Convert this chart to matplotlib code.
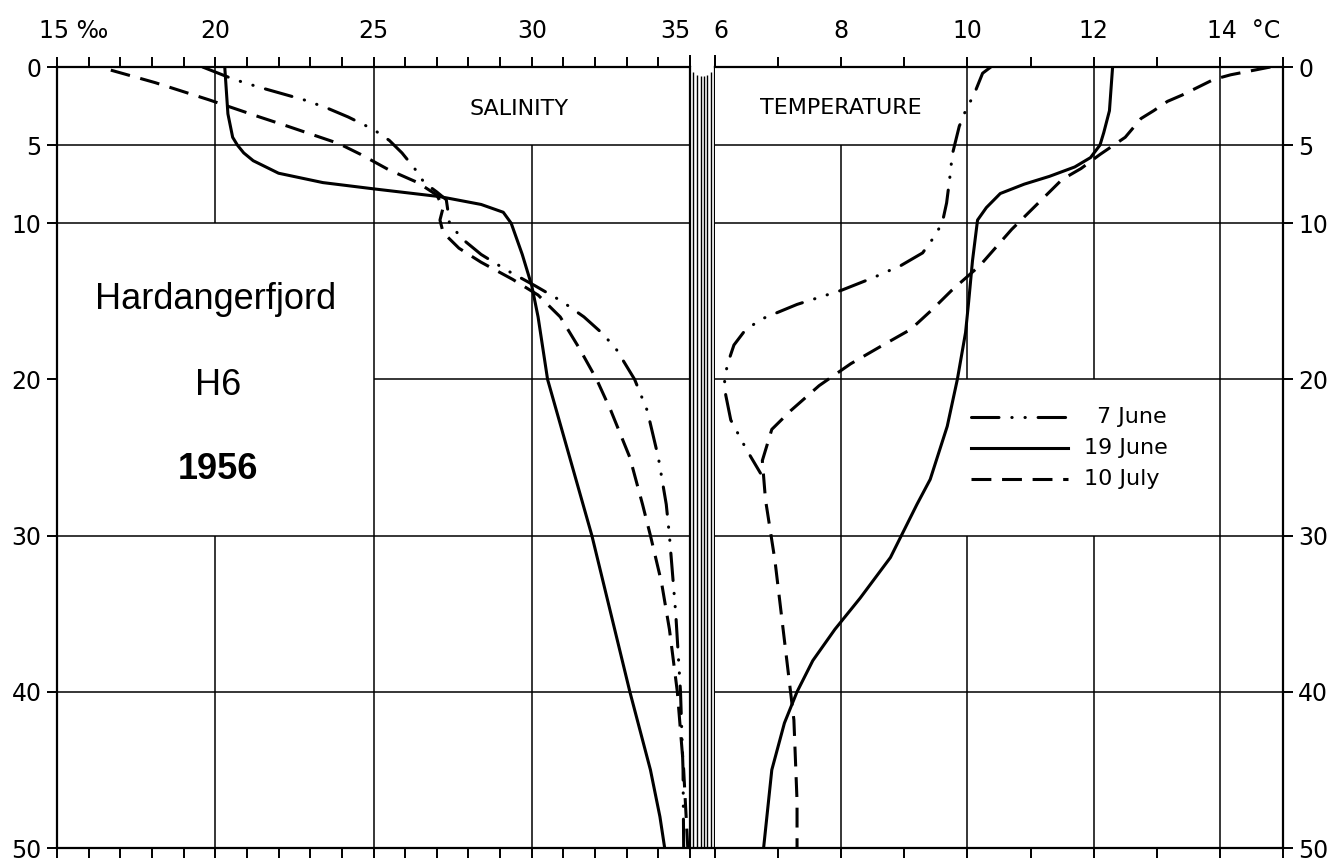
import numpy as np
import matplotlib.pyplot as plt

# depth (m) and salinity (permille)
sal_jun07_d = [0, 0.8, 1.3, 2.1, 2.6, 3.2, 4, 4.7, 5.5, 6.5, 7.4, 8, 8.5, 9.2, 10, 11, 12, 13, 14, 15, 16, 17, 18, 20, 22, 25, 28, 30, 35, 40, 45, 50]
sal_jun07 = [19.6, 20.6, 21.4, 22.8, 23.5, 24.2, 25.0, 25.5, 25.9, 26.3, 26.6, 27.0, 27.3, 27.35, 27.4, 27.8, 28.4, 29.2, 30.1, 30.95, 31.65, 32.2, 32.65, 33.25, 33.65, 34.0, 34.25, 34.35, 34.55, 34.7, 34.78, 34.8]
sal_jun19_d = [0, 3, 4.5, 5, 5.5, 6, 6.8, 7.4, 7.8, 8.3, 8.8, 9.3, 10, 12, 14, 16, 20, 25, 30, 35, 40, 45, 48, 50]
sal_jun19 = [20.3, 20.4, 20.55, 20.7, 20.9, 21.2, 22.0, 23.4, 25.0, 27.1, 28.4, 29.1, 29.35, 29.7, 30.0, 30.2, 30.5, 31.2, 31.9, 32.5, 33.1, 33.75, 34.05, 34.2]
sal_jul10_d = [0.2, 1, 2.1, 3.2, 3.8, 4.9, 5.6, 6.6, 7.4, 8.2, 9, 9.8, 10.6, 11.6, 12.5, 13.6, 14.6, 16, 18, 20, 22, 25, 28, 30, 33, 36, 40, 45, 50]
sal_jul10 = [16.7, 18.1, 19.8, 21.4, 22.3, 23.9, 24.6, 25.5, 26.4, 27.0, 27.2, 27.1, 27.2, 27.7, 28.4, 29.4, 30.2, 30.9, 31.5, 32.05, 32.5, 33.1, 33.5, 33.75, 34.1, 34.35, 34.6, 34.8, 34.93]

# depth (m) and temperature (deg C)
tmp_jun07_d = [0, 0.4, 1.8, 2.7, 3.8, 5.6, 7.1, 8.7, 10, 11, 11.9, 12.7, 13.5, 14.3, 15.2, 16.2, 17, 17.8, 19, 20, 21, 22.6, 24.5, 26]
tmp_jun07 = [10.37, 10.24, 10.1, 9.98, 9.87, 9.76, 9.72, 9.67, 9.6, 9.45, 9.29, 8.95, 8.5, 8.0, 7.3, 6.7, 6.45, 6.3, 6.2, 6.15, 6.17, 6.25, 6.5, 6.72]
tmp_jun19_d = [0, 2.8, 4.2, 5, 5.8, 6.4, 7, 7.5, 8.1, 9, 9.8, 12.4, 15, 17, 20, 23, 26.4, 28, 31.4, 34, 36, 38, 40, 42, 45, 50]
tmp_jun19 = [12.3, 12.25, 12.16, 12.1, 11.95, 11.7, 11.3, 10.9, 10.52, 10.3, 10.16, 10.08, 10.02, 9.97, 9.84, 9.68, 9.41, 9.2, 8.78, 8.3, 7.9, 7.55, 7.3, 7.1, 6.9, 6.77]
tmp_jul10_d = [0, 0.5, 0.8, 1.2, 1.8, 2.2, 2.8, 3.3, 4.5, 5.6, 6.5, 7.2, 8.8, 10.4, 12.7, 14.3, 15.5, 16.8, 17.9, 19, 20.4, 22, 23.2, 25.2, 27.7, 31.6, 36.7, 41.8, 47, 50]
tmp_jul10 = [14.8, 14.17, 13.9, 13.7, 13.4, 13.17, 12.95, 12.75, 12.5, 12.1, 11.8, 11.5, 11.1, 10.7, 10.2, 9.75, 9.45, 9.1, 8.62, 8.15, 7.65, 7.2, 6.9, 6.75, 6.8, 6.95, 7.1, 7.25, 7.3, 7.3]

depth_ticks = [0, 5, 10, 20, 30, 40, 50]
sal_labels = [15, 20, 25, 30, 35]
tmp_labels = [6, 8, 10, 12, 14]
legend_names = ['7 June', '19 June', '10 July']

W, H = 1343, 860
plt.rcParams['font.family'] = ['DejaVu Sans']
fig = plt.figure(figsize=(W / 100, H / 100), dpi=100)
axS = fig.add_axes([57 / W, 12 / H, 633 / W, 781 / H])
axM = fig.add_axes([690 / W, 12 / H, 25 / W, 781 / H])
axT = fig.add_axes([715 / W, 12 / H, 568 / W, 781 / H])

lw = 2.2
st_dd = dict(color='k', lw=lw, ls=(0, (9, 4.2, 0.1, 4.2, 0.1, 4.2)), dash_capstyle='round')
st_solid = dict(color='k', lw=lw, ls='-')
st_dash = dict(color='k', lw=lw, ls=(0, (6.5, 3.5)))
gl = dict(color='k', lw=1.1)

for ax in (axS, axT, axM):
    ax.set_ylim(50, 0)
    for s in ax.spines.values():
        s.set_linewidth(1.6)

# salinity panel
axS.set_xlim(15, 35)
axS.set_xticks(np.arange(15, 36, 1))
axS.tick_params(axis='x', which='both', top=True, bottom=True, direction='out',
                length=7, width=1.4, labelbottom=False, labeltop=False)
axS.set_yticks(depth_ticks)
axS.tick_params(axis='y', left=True, right=False, direction='out', length=7, width=1.4,
                labelsize=17, pad=4)
axS.spines['right'].set_visible(False)
axS.vlines(20, 0, 10, **gl)
axS.vlines(20, 30, 50, **gl)
axS.vlines(25, 0, 50, **gl)
axS.vlines(30, 5, 50, **gl)
axS.hlines([5, 10, 30, 40], 15, 35, **gl)
axS.hlines(20, 25, 35, **gl)
axS.plot(sal_jun07, sal_jun07_d, **st_dd)
axS.plot(sal_jun19, sal_jun19_d, **st_solid)
axS.plot(sal_jul10, sal_jul10_d, **st_dash)
axS.text(29.6, 2.7, 'SALINITY', fontsize=16, ha='center', va='center')
axS.text(20.0, 14.9, 'Hardangerfjord', family='Liberation Sans', fontsize=26, ha='center', va='center')
axS.text(20.1, 20.4, 'H6', family='Liberation Sans', fontsize=26, ha='center', va='center')
axS.text(20.1, 25.8, '1956', family='Liberation Sans', fontsize=26, weight='bold', ha='center', va='center')

# temperature panel
axT.set_xlim(6, 15)
axT.set_xticks(np.arange(6, 16, 1))
axT.tick_params(axis='x', which='both', top=True, bottom=True, direction='out',
                length=7, width=1.4, labelbottom=False, labeltop=False)
axT.set_yticks(depth_ticks)
axT.tick_params(axis='y', left=False, right=True, labelleft=False, labelright=True,
                direction='out', length=7, width=1.4, labelsize=17, pad=4)
axT.spines['left'].set_visible(False)
axT.vlines(8, 5, 50, **gl)
axT.vlines([10, 12], 0, 20, **gl)
axT.vlines([10, 12], 30, 50, **gl)
axT.vlines(14, 0, 50, **gl)
axT.hlines([5, 10, 20, 30, 40], 6, 15, **gl)
axT.plot(tmp_jun07, tmp_jun07_d, **st_dd)
axT.plot(tmp_jun19, tmp_jun19_d, **st_solid)
axT.plot(tmp_jul10, tmp_jul10_d, **st_dash)
axT.text(8.0, 2.6, 'TEMPERATURE', fontsize=16, ha='center', va='center')

# legend drawn inside the box 10-14 / 20-30 m
leg_y = [22.4, 24.4, 26.4]
for yy, name, st in zip(leg_y, legend_names, (st_dd, st_solid, st_dash)):
    axT.plot([10.05, 11.6], [yy, yy], **st)
    axT.text(11.84 if name != '7 June' else 12.06, yy, name, fontsize=16, ha='left', va='center')

# break strip between the panels
axM.set_xlim(0, 1)
axM.set_xticks([0, 1])
axM.tick_params(axis='x', top=True, bottom=False, direction='out', length=9, width=1.4,
                labeltop=False, labelbottom=False)
axM.set_yticks([])
axM.spines['top'].set_visible(False)
strip_x = [0.13, 0.27, 0.43, 0.56, 0.69, 0.83]
strip_top = [0.3, 0.5, 0.6, 0.6, 0.5, 0.3]
for xx, tt in zip(strip_x, strip_top):
    axM.vlines(xx, tt, 50, color='k', lw=1.0)

# top labels
for v in sal_labels:
    txt = '15 ‰' if v == 15 else str(v)
    ha = 'center'
    dx = 0
    if v == 15:
        ha, dx = 'left', -13
    if v == 35:
        ha, dx = 'right', 0
    axS.annotate(txt, (v, 1), xycoords=('data', 'axes fraction'), xytext=(dx, 26),
                 textcoords='offset points', ha=ha, va='center', fontsize=17)
for v in tmp_labels:
    txt = '14  °C' if v == 14 else str(v)
    ha = 'center'
    dx = 0
    if v == 14:
        ha, dx = 'left', -9
    if v == 6:
        dx = 4
    axT.annotate(txt, (v, 1), xycoords=('data', 'axes fraction'), xytext=(dx, 26),
                 textcoords='offset points', ha=ha, va='center', fontsize=17)

fig.savefig('out.png', dpi=100)
